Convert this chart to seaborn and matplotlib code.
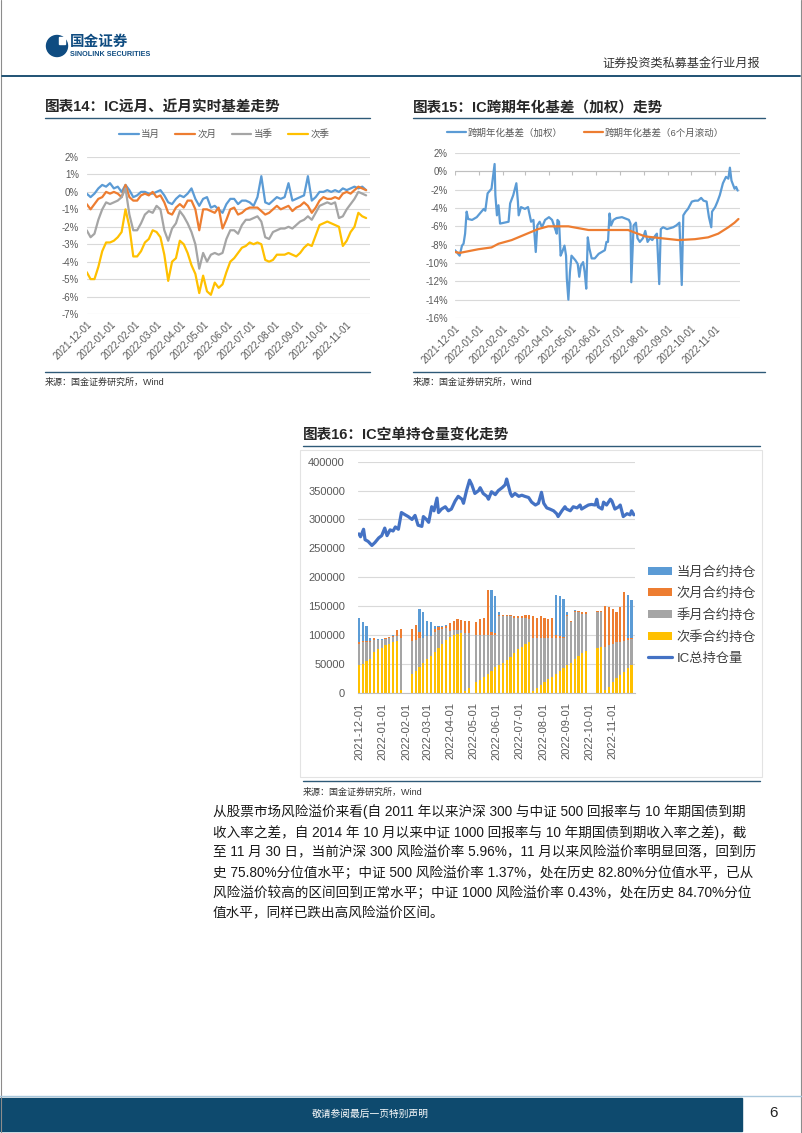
import numpy as np
import pandas as pd
import matplotlib.pyplot as plt
from matplotlib.lines import Line2D
from matplotlib.patches import Patch, Rectangle, Circle
from matplotlib.ticker import FuncFormatter, MultipleLocator
import seaborn as sns

sns.set_style("white")
plt.rcParams["font.family"] = ["Liberation Sans", "Noto Sans CJK SC", "DejaVu Sans"]
plt.rcParams["axes.unicode_minus"] = False

W, H = 802, 1133
START = pd.Timestamp("2021-12-01")
BLUE, ORANGE, GRAY, GOLD, NAVY = "#5B9BD5", "#ED7D31", "#A5A5A5", "#FFC000", "#4472C4"
TICK = "#595959"
RULE = "#2E5A78"

# ---- 图表14: 基差 (%), sampled every 5 days from 2021-12-01
days14 = list(range(0, 361, 5))
dangyue = [-0.1, -0.3, -0.1, 0.2, 0.4, 0.3, 0.5, 0.2, 0.3, 0.0,
           0.4, 0.1, -0.3, -0.2, 0.0, 0.0, -0.1, -0.1, 0.0, 0.1,
           -0.2, -0.6, -0.7, -0.4, -0.2, -0.3, -0.1, 0.2, -0.4, -0.8,
           -0.4, -0.3, -0.9, -0.8, -1.0, -1.2, -0.7, -0.4, -0.4, -0.7,
           -0.5, -0.5, -0.6, -0.8, -0.3, 0.9, -0.6, -0.7, -0.5, -0.3,
           -0.4, -0.3, 0.5, -0.5, -0.4, -0.3, -0.2, 0.9, -0.5, -0.3,
           0.0, 0.0, 0.1, 0.0, 0.1, 0.0, 0.2, 0.1, 0.2, 0.3,
           0.2, 0.3, 0.1]
ciyue = [-0.7, -1.0, -0.7, -0.4, -0.3, 0.0, -0.1, 0.0, -0.1, -0.3,
         0.4, -0.3, -0.5, -0.5, -0.2, -0.1, -0.2, 0.0, -0.3, -0.2,
         -0.6, -1.2, -1.3, -0.9, -0.7, -0.9, -0.5, -0.5, -1.0, -2.2,
         -1.0, -1.0, -1.1, -1.2, -0.9, -2.1, -1.6, -1.0, -0.9, -1.3,
         -1.2, -1.0, -0.9, -0.9, -0.9, -1.1, -1.3, -1.2, -1.0, -0.8,
         -1.0, -0.9, -0.8, -1.1, -0.9, -0.8, -0.6, -0.8, -1.2, -0.9,
         -0.5, -0.3, -0.4, -0.4, -0.3, -0.4, -0.1, 0.0, -0.1, 0.1,
         0.3, 0.2, 0.1]
dangji = [-2.2, -2.6, -2.4, -1.6, -1.0, -0.6, -0.7, -0.6, -0.5, -0.3,
          0.2, -1.3, -2.2, -2.2, -1.8, -1.3, -1.1, -1.2, -0.8, -1.0,
          -2.2, -2.8, -2.1, -1.8, -1.1, -1.4, -1.8, -2.3, -3.0, -4.4,
          -3.5, -4.0, -3.6, -3.5, -3.6, -3.5, -2.7, -2.2, -2.2, -2.4,
          -1.9, -1.6, -1.6, -1.5, -1.4, -1.7, -2.6, -2.7, -2.3, -2.2,
          -2.1, -2.1, -2.0, -2.1, -1.9, -1.7, -1.6, -1.4, -1.6, -1.2,
          -0.8, -0.7, -0.6, -0.7, -0.6, -1.5, -1.4, -1.0, -0.7, -0.4,
          0.0, -0.1, -0.2]
ciji = [-4.6, -5.0, -5.0, -4.3, -3.4, -2.9, -2.9, -2.8, -2.6, -2.3,
        -1.0, -2.0, -3.7, -3.7, -3.4, -2.9, -2.7, -2.2, -2.3, -2.6,
        -3.6, -5.1, -4.0, -3.8, -2.8, -3.0, -3.5, -4.2, -4.7, -5.8,
        -4.8, -5.7, -5.9, -5.2, -5.5, -5.3, -4.6, -4.0, -3.8, -3.5,
        -3.2, -3.1, -2.9, -3.0, -2.9, -3.0, -3.9, -4.0, -3.9, -3.6,
        -3.6, -3.6, -3.5, -3.6, -3.7, -3.5, -3.2, -3.0, -3.1, -2.5,
        -1.9, -1.8, -1.7, -1.8, -1.9, -2.0, -3.1, -2.8, -2.3, -2.0,
        -1.2, -1.4, -1.5]
names14 = ["当月", "次月", "当季", "次季"]

# ---- 图表15: 跨期年化基差 (%)
days15_w = [0, 6, 9, 11, 13, 15, 17, 22, 28, 34, 37, 39, 42, 47, 51, 52, 54, 56, 58, 69,
            71, 75, 79, 81, 82, 85, 90, 94, 98, 101, 104, 106, 109, 112, 116, 121, 125, 129, 131, 132,
            134, 136, 138, 141, 143, 144, 146, 148, 150, 155, 158, 160, 162, 165, 167, 169, 171, 173, 176, 180,
            185, 189, 193, 195, 197, 199, 201, 204, 208, 215, 221, 224, 226, 227, 230, 233, 235, 238, 242, 245,
            248, 251, 254, 258, 260, 263, 265, 268, 273, 277, 281, 285, 289, 292, 294, 297, 300, 305, 309, 313,
            317, 320, 324, 327, 330, 331, 335, 338, 341, 345, 349, 352, 354, 356, 360, 362, 364]
jiaquan = [-8.6, -9.2, -8.1, -7.9, -6.8, -4.4, -5.2, -5.3, -5.0, -4.4, -4.1, -4.3, -2.4, -1.9, 0.8, -2.6, -4.8, -3.7, -5.7, -5.5,
           -3.5, -2.6, -1.3, -3.3, -4.8, -3.9, -4.1, -3.9, -5.5, -5.3, -8.8, -5.9, -5.5, -6.1, -5.3, -5.0, -5.3, -6.3, -6.8, -5.3,
           -5.5, -9.2, -8.8, -8.1, -9.2, -11.7, -14.0, -11.0, -9.2, -9.7, -10.1, -11.5, -10.3, -9.9, -11.0, -12.8, -7.2, -8.4, -9.5, -9.5,
           -9.0, -8.8, -8.6, -7.7, -7.7, -4.6, -5.9, -5.3, -5.1, -5.0, -5.2, -5.3, -5.7, -12.1, -5.9, -5.6, -7.3, -7.7, -7.3, -6.5,
           -7.7, -7.3, -7.5, -7.0, -6.8, -12.3, -6.3, -6.1, -6.3, -6.2, -6.1, -5.9, -5.6, -12.4, -4.8, -4.4, -4.1, -3.3, -3.2, -3.2,
           -2.9, -3.2, -3.3, -5.0, -6.1, -4.4, -3.9, -3.3, -2.6, -1.3, -0.6, -0.8, 0.4, -1.0, -1.9, -1.7, -2.1]
days15_r = [0, 6, 30, 47, 56, 73, 90, 107, 120, 133, 146, 159, 172, 185, 200, 223, 232, 245, 266, 288,
            309, 326, 339, 352, 360, 365]
gundong = [-8.8, -8.9, -8.5, -8.3, -7.9, -7.5, -6.9, -6.3, -6.0, -6.0, -6.0, -6.2, -6.4, -6.4, -6.4, -6.4, -6.7, -7.1, -7.3, -7.5,
           -7.4, -7.2, -6.8, -6.1, -5.6, -5.2]
names15 = ["跨期年化基差（加权）", "跨期年化基差（6个月滚动）"]

# ---- 图表16: 持仓 (千手)
days16_bar = [0, 5, 10, 15, 20, 25, 30, 35, 40, 45, 50, 55,
              70, 75, 80, 85, 90, 95, 100, 105, 110, 115, 120, 125, 130, 135, 140, 145,
              155, 160, 165, 170, 175, 180, 185, 190, 195, 200, 205, 210, 215, 220, 225, 230, 235,
              240, 245, 250, 255, 260, 265, 270, 275, 280, 285, 290, 295, 300,
              315, 320, 325, 330, 335, 340, 345, 350, 355, 360]
ciji_k = [48, 50, 55, 58, 70, 75, 78, 82, 85, 88, 90, 5,
          32, 38, 45, 52, 58, 63, 70, 78, 85, 92, 97, 100, 102, 103, 3, 8,
          18, 22, 28, 32, 38, 45, 48, 52, 57, 62, 68, 75, 80, 85, 88, 3, 8,
          13, 18, 23, 28, 33, 38, 43, 48, 52, 58, 63, 68, 73,
          77, 80, 5, 10, 18, 25, 30, 35, 42, 48]
jiyue_k = [37, 38, 32, 30, 22, 16, 13, 11, 10, 9, 8, 90,
           58, 54, 50, 43, 40, 35, 35, 30, 25, 20, 10, 8, 6, 5, 100, 95,
           82, 78, 72, 68, 62, 55, 85, 80, 75, 70, 62, 55, 50, 45, 40, 92, 87,
           82, 77, 72, 67, 62, 57, 52, 85, 70, 82, 76, 69, 64,
           62, 59, 75, 72, 67, 62, 58, 55, 50, 45]
ciyue_k = [3, 2, 3, 2, 2, 1, 1, 1, 1, 2, 10, 15,
           20, 26, 10, 0, 0, 0, 5, 5, 4, 3, 13, 17, 19, 18, 22, 22,
           22, 28, 30, 78, 5, 3, 2, 2, 2, 2, 2, 2, 2, 4, 7, 37, 35,
           37, 35, 33, 35, 5, 3, 2, 2, 2, 2, 2, 2, 2,
           2, 2, 70, 66, 60, 53, 60, 85, 3, 2]
dangyue_k = [42, 32, 25, 5, 1, 1, 1, 1, 1, 1, 0, 0,
             0, 0, 40, 45, 27, 24, 5, 3, 2, 2, 0, 0, 0, 0, 0, 0,
             0, 0, 0, 0, 73, 65, 5, 1, 1, 1, 1, 1, 1, 1, 0, 0, 0,
             0, 0, 0, 0, 70, 70, 65, 5, 1, 1, 1, 1, 1,
             1, 1, 0, 0, 0, 0, 0, 0, 75, 65]
days16_line = [0, 2, 6, 8, 12, 17, 21, 26, 30, 34, 37, 41, 45, 48, 52, 56, 61, 65, 70, 74,
               78, 83, 85, 89, 92, 96, 99, 103, 105, 109, 114, 118, 122, 127, 131, 136, 138, 142, 146, 149,
               153, 158, 160, 164, 169, 171, 175, 180, 184, 189, 193, 195, 200, 202, 206, 211, 215, 219, 224, 228,
               233, 237, 241, 244, 248, 252, 257, 261, 263, 268, 272, 274, 279, 283, 288, 292, 294, 299, 303, 307,
               312, 314, 316, 321, 323, 327, 332, 334, 338, 343, 345, 349, 354, 358, 360, 363]
total_k = [275, 270, 283, 265, 262, 255, 260, 268, 272, 285, 272, 282, 280, 287, 283, 312, 308, 305, 300, 307,
           290, 288, 305, 300, 295, 322, 315, 337, 312, 318, 322, 315, 318, 332, 340, 335, 328, 350, 368, 360,
           345, 350, 355, 345, 340, 335, 348, 343, 350, 355, 360, 370, 345, 340, 345, 340, 342, 340, 338, 330,
           325, 328, 347, 328, 320, 318, 315, 310, 305, 315, 322, 318, 315, 322, 320, 325, 318, 322, 325, 326,
           325, 335, 322, 318, 330, 325, 335, 332, 318, 322, 325, 305, 310, 308, 315, 308]

paragraph = [
    "从股票市场风险溢价来看(自 2011 年以来沪深 300 与中证 500 回报率与 10 年期国债到期",
    "收入率之差，自 2014 年 10 月以来中证 1000 回报率与 10 年期国债到期收入率之差)，截",
    "至 11 月 30 日，当前沪深 300 风险溢价率 5.96%，11 月以来风险溢价率明显回落，回到历",
    "史 75.80%分位值水平；中证 500 风险溢价率 1.37%，处在历史 82.80%分位值水平，已从",
    "风险溢价较高的区间回到正常水平；中证 1000 风险溢价率 0.43%，处在历史 84.70%分位",
    "值水平，同样已跌出高风险溢价区间。",
]


def to_dates(days):
    return START + pd.to_timedelta(days, unit="D")


def px_box(x0, y0, x1, y1):
    return [x0 / W, 1 - y1 / H, (x1 - x0) / W, (y1 - y0) / H]


months = pd.date_range("2021-12-01", "2022-11-01", freq="MS")
month_labels = [m.strftime("%Y-%m-%d") for m in months]
pct = FuncFormatter(lambda v, _: f"{v:.0f}%")

fig = plt.figure(figsize=(W / 100, H / 100), dpi=100)

# page furniture drawn in pixel coordinates
bg = fig.add_axes([0, 0, 1, 1])
bg.set_xlim(0, W)
bg.set_ylim(H, 0)
bg.axis("off")
bg.plot([1, 1], [0, H], color="#8C8C8C", lw=0.8)
bg.plot([801, 801], [0, H], color="#8C8C8C", lw=0.8)
bg.add_patch(Circle((57, 46), 10.5, color="#0F4C81"))
bg.add_patch(Rectangle((59, 37), 6, 7, color="white"))
bg.text(70, 42, "国金证券", fontsize=10.5, fontweight="bold", color="#0F4C81", va="center")
bg.text(70, 54, "SINOLINK SECURITIES", fontsize=5.2, fontweight="bold", color="#0F4C81", va="center")
bg.text(760, 64, "证券投资类私募基金行业月报", fontsize=8.7, color="#333333", ha="right", va="center")
bg.plot([2, 800], [76, 76], color="#1F5274", lw=1.4)

for x0, x1, title in [(45, 370, "图表14：IC远月、近月实时基差走势"),
                      (413, 765, "图表15：IC跨期年化基差（加权）走势")]:
    bg.text(x0, 108, title, fontsize=10.5, fontweight="bold", va="center")
    bg.plot([x0, x1], [118, 118], color=RULE, lw=1.0)
    bg.plot([x0, x1], [372, 372], color=RULE, lw=1.0)
    bg.text(x0, 382, "来源：国金证券研究所，Wind", fontsize=6.5, color="#333333", va="center")

bg.text(303, 435, "图表16：IC空单持仓量变化走势", fontsize=10.5, fontweight="bold", va="center")
bg.plot([303, 760], [446, 446], color=RULE, lw=1.0)
bg.add_patch(Rectangle((300, 450), 462, 327, fill=False, ec="#E3E3E3", lw=0.8))
bg.plot([303, 760], [781, 781], color=RULE, lw=1.0)
bg.text(303, 792, "来源：国金证券研究所，Wind", fontsize=6.5, color="#333333", va="center")

for i, line in enumerate(paragraph):
    bg.text(213, 812 + i * 20.2, line, fontsize=9.8, color="#1A1A1A", va="center")

bg.plot([0, W], [1096, 1096], color="#A9C7DC", lw=1.0)
bg.add_patch(Rectangle((0, 1098), 742, 33, color="#0E4A6E"))
bg.text(370, 1114, "敬请参阅最后一页特别声明", fontsize=7, color="white", ha="center", va="center")
bg.text(773, 1113, "6", fontsize=11, color="#222222", ha="center", va="center")


def style_date_axis(ax, rot, size):
    ax.set_xticks(months)
    if rot == 45:
        ax.set_xticklabels(month_labels, rotation=45, ha="right", rotation_mode="anchor")
    else:
        ax.set_xticklabels(month_labels, rotation=90, ha="center", va="top")
    ax.set_xlabel("")
    ax.set_ylabel("")
    ax.grid(axis="y", color="#D9D9D9", lw=0.8)
    ax.grid(axis="x", visible=False)
    ax.set_axisbelow(True)
    ax.set_facecolor("none")
    sns.despine(ax=ax, left=True, bottom=True)
    ax.tick_params(axis="both", length=0, labelsize=size, colors=TICK)


# ---- 图表14
df14 = pd.DataFrame({
    "date": list(to_dates(days14)) * 4,
    "value": dangyue + ciyue + dangji + ciji,
    "series": [n for n in names14 for _ in days14],
})
ax14 = fig.add_axes(px_box(86.7, 157, 370, 314))
sns.lineplot(data=df14, x="date", y="value", hue="series", hue_order=names14,
             palette=[BLUE, ORANGE, GRAY, GOLD], linewidth=1.6, ax=ax14)
ax14.set_ylim(-7, 2)
ax14.set_xlim(START, START + pd.Timedelta(days=365))
ax14.yaxis.set_major_locator(MultipleLocator(1))
ax14.yaxis.set_major_formatter(pct)
style_date_axis(ax14, 45, 6.9)
ax14.tick_params(axis="y", pad=5.5)
ax14.tick_params(axis="x", pad=4)
sns.move_legend(ax14, "center", bbox_to_anchor=(0.485, 1.146), ncol=4, frameon=False, title=None,
                fontsize=6.8, handlelength=2.1, handletextpad=0.25, columnspacing=1.6)
for t in ax14.get_legend().get_texts():
    t.set_color(TICK)

# ---- 图表15
df15 = pd.DataFrame({
    "date": list(to_dates(days15_w)) + list(to_dates(days15_r)),
    "value": jiaquan + gundong,
    "series": [names15[0]] * len(days15_w) + [names15[1]] * len(days15_r),
})
ax15 = fig.add_axes(px_box(455, 153, 740, 318))
ax15.axhline(0, color="#BFBFBF", lw=0.8, zorder=1)
ax15.vlines(months, -0.35, 0, color="#BFBFBF", lw=0.8, zorder=1)
sns.lineplot(data=df15, x="date", y="value", hue="series", hue_order=names15,
             palette=[BLUE, ORANGE], linewidth=1.6, ax=ax15)
ax15.set_ylim(-16, 2)
ax15.set_xlim(START, START + pd.Timedelta(days=367))
ax15.yaxis.set_major_locator(MultipleLocator(2))
ax15.yaxis.set_major_formatter(pct)
style_date_axis(ax15, 45, 6.9)
ax15.tick_params(axis="y", pad=5)
ax15.tick_params(axis="x", pad=4)
sns.move_legend(ax15, "center", bbox_to_anchor=(0.458, 1.121), ncol=2, frameon=False, title=None,
                fontsize=6.8, handlelength=2.0, handletextpad=0.2, columnspacing=2.2)
for t in ax15.get_legend().get_texts():
    t.set_color(TICK)

# ---- 图表16
ax16 = fig.add_axes(px_box(357.5, 461.7, 634.6, 692.7))
bar_dates = to_dates(days16_bar)
stack = [("次季合约持仓", ciji_k, GOLD), ("季月合约持仓", jiyue_k, GRAY),
         ("次月合约持仓", ciyue_k, ORANGE), ("当月合约持仓", dangyue_k, BLUE)]
bottom = np.zeros(len(days16_bar))
for name, vals, color in stack:
    vals = np.array(vals) * 1000
    ax16.bar(bar_dates, vals, bottom=bottom, width=2.9, color=color, linewidth=0)
    bottom += vals
sns.lineplot(x=to_dates(days16_line), y=np.array(total_k) * 1000, color=NAVY, linewidth=2.3, ax=ax16)
ax16.set_ylim(0, 400000)
ax16.set_xlim(START - pd.Timedelta(days=2), START + pd.Timedelta(days=364))
ax16.yaxis.set_major_locator(MultipleLocator(50000))
ax16.yaxis.set_major_formatter(FuncFormatter(lambda v, _: f"{v:.0f}"))
style_date_axis(ax16, 90, 8)
ax16.spines["bottom"].set_visible(True)
ax16.spines["bottom"].set_color("#BFBFBF")
ax16.spines["bottom"].set_linewidth(0.8)
ax16.tick_params(axis="x", length=3, color="#BFBFBF", pad=4)
ax16.tick_params(axis="y", pad=9)

handles = [Patch(facecolor=c, edgecolor="none", label=n) for n, _, c in stack[::-1]]
handles.append(Line2D([], [], color=NAVY, lw=2.3, label="IC总持仓量"))
leg = fig.legend(handles=handles, loc="upper left", bbox_to_anchor=(643 / W, 1 - 561 / H),
                 frameon=False, fontsize=9.5, handlelength=1.8, handleheight=0.55,
                 handletextpad=0.35, labelspacing=0.68, borderaxespad=0)
for t in leg.get_texts():
    t.set_color("#404040")

fig.savefig("out.png", dpi=100)
